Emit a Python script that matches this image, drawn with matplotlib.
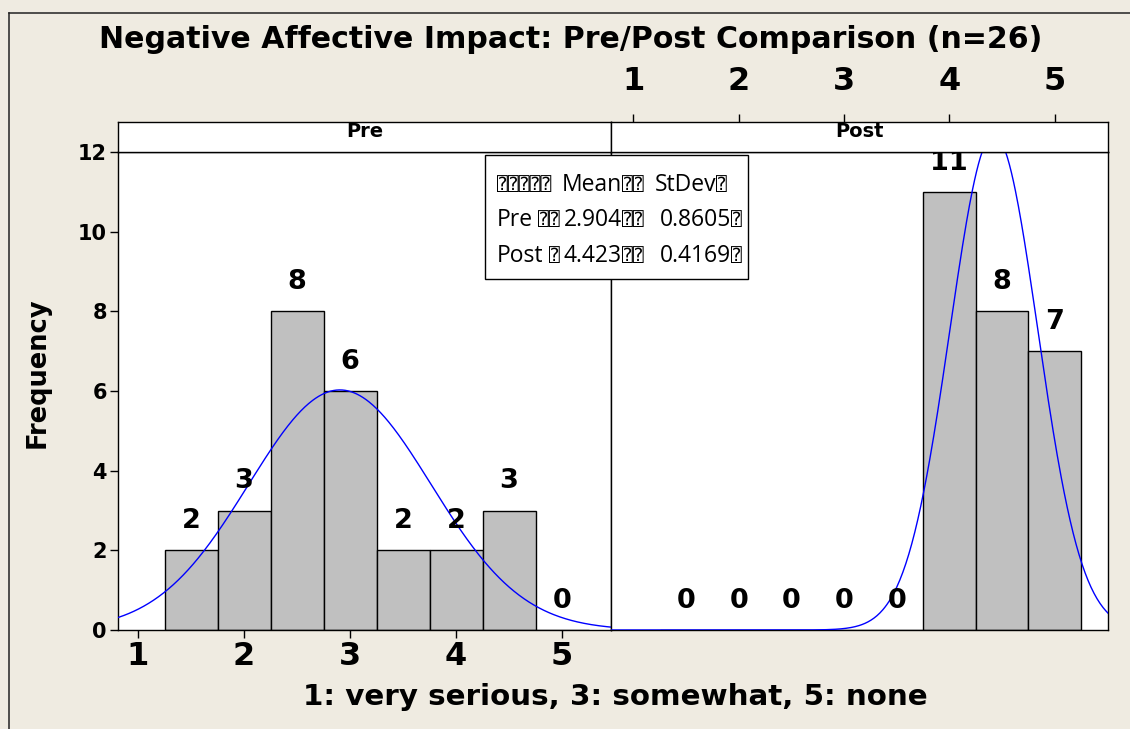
import numpy as np
import matplotlib
matplotlib.use('Agg')
import matplotlib.pyplot as plt
from matplotlib.lines import Line2D
from matplotlib.patches import Rectangle

# ---------------- data ----------------
bin_centers = [1.5, 2.0, 2.5, 3.0, 3.5, 4.0, 4.5, 5.0]
pre_counts = [2, 3, 8, 6, 2, 2, 3, 0]
post_counts = [0, 0, 0, 0, 0, 11, 8, 7]
bin_width = 0.5
groups = ["Pre", "Post"]
means = [2.904, 4.423]
stdevs = [0.8605, 0.4169]
n_obs = 26
x_ticks = [1, 2, 3, 4, 5]
y_ticks = [0, 2, 4, 6, 8, 10, 12]
title = "Negative Affective Impact: Pre/Post Comparison (n=26)"
xlabel = "1: very serious, 3: somewhat, 5: none"
ylabel = "Frequency"
legend_header = ["Mean", "StDev"]
TOFU = "\u2370"

# ---------------- layout ----------------
W, H = 1130, 729
fig = plt.figure(figsize=(W / 100, H / 100), dpi=100)
bg = '#EFEBE1'
fig.patch.set_facecolor(bg)


def fx(px):
    return px / W


def fy(py):
    return 1 - py / H


L, M, R = 118, 611, 1108
TOP, BOT, STRIP = 152, 630, 122

ax_l = fig.add_axes([fx(L), fy(BOT), fx(M) - fx(L), fy(TOP) - fy(BOT)])
ax_r = fig.add_axes([fx(M), fy(BOT), fx(R) - fx(M), fy(TOP) - fy(BOT)])
st_l = fig.add_axes([fx(L), fy(TOP), fx(M) - fx(L), fy(STRIP) - fy(TOP)])
st_r = fig.add_axes([fx(M), fy(TOP), fx(R) - fx(M), fy(STRIP) - fy(TOP)])

xlims = [(0.811, 5.462), (0.787, 5.507)]
counts_all = [pre_counts, post_counts]

for i, (ax, st) in enumerate([(ax_l, st_l), (ax_r, st_r)]):
    counts = counts_all[i]
    ax.set_facecolor('white')
    ax.bar(bin_centers, counts, width=bin_width, color='#C0C0C0',
           edgecolor='black', linewidth=1.0, zorder=2)
    for xc, c in zip(bin_centers, counts):
        ax.annotate(str(c), (xc, c), xytext=(0, 29), textcoords='offset pixels',
                    ha='center', va='center', fontsize=19.5, fontweight='bold',
                    zorder=4)
    xs = np.linspace(xlims[i][0], xlims[i][1], 500)
    ys = n_obs * bin_width * np.exp(-0.5 * ((xs - means[i]) / stdevs[i]) ** 2) / (
        stdevs[i] * np.sqrt(2 * np.pi))
    ax.plot(xs, ys, color='#0000FF', linewidth=1.0, zorder=3)
    ax.set_xlim(*xlims[i])
    ax.set_ylim(0, 12)
    for sp in ax.spines.values():
        sp.set_linewidth(1.0)
        sp.set_color('black')

    st.set_facecolor('white')
    st.set_xlim(*xlims[i])
    st.set_ylim(0, 1)
    st.set_yticks([])
    st.text(0.5, 0.68, groups[i], transform=st.transAxes, ha='center', va='center',
            fontsize=14, fontweight='bold')
    for sp in st.spines.values():
        sp.set_linewidth(1.0)
        sp.set_color('black')

# left panel axes
ax_l.set_yticks(y_ticks)
ax_l.set_yticklabels([str(v) for v in y_ticks], fontsize=15, fontweight='bold')
ax_l.set_xticks(x_ticks)
ax_l.set_xticklabels([str(v) for v in x_ticks], fontsize=23, fontweight='bold')
ax_l.tick_params(axis='y', length=6, width=1.0, pad=2)
ax_l.tick_params(axis='x', length=6, width=1.0, pad=2)
st_l.set_xticks([])

# right panel axes
ax_r.set_yticks([])
ax_r.set_xticks([])
st_r.xaxis.tick_top()
st_r.set_xticks(x_ticks)
st_r.set_xticklabels([str(v) for v in x_ticks], fontsize=23, fontweight='bold')
st_r.tick_params(axis='x', top=True, bottom=False, length=6, width=1.0, pad=12)

# legend table
fig.patches.append(Rectangle((fx(485), fy(279)), fx(748) - fx(485), fy(155) - fy(279),
                             transform=fig.transFigure, facecolor='white',
                             edgecolor='black', linewidth=1.0, zorder=5))
txt_font = ['Open Sans', 'DejaVu Sans']
box_font = ['DejaVu Sans Mono', 'DejaVu Sans']
row_y = [185, 220, 256]
col0_labels = [TOFU * 5, groups[0], groups[1]]
col1_labels = [legend_header[0], f"{means[0]:.3f}", f"{means[1]:.3f}"]
col2_labels = [legend_header[1], f"{stdevs[0]:.4f}", f"{stdevs[1]:.4f}"]
gap_boxes = [TOFU * 2, TOFU * 2, TOFU * 2]
lead_boxes = ["", TOFU * 2, TOFU]


def put(xpx, ypx, s, ha, fam, size):
    fig.text(fx(xpx), fy(ypx), s, ha=ha, va='center', fontsize=size,
             family=fam, zorder=6)


for r in range(3):
    y = row_y[r]
    put(497, y, col0_labels[r], 'left', box_font if r == 0 else txt_font,
        13 if r == 0 else 16.5)
    if lead_boxes[r]:
        put(560, y, lead_boxes[r], 'right', box_font, 13)
    put(622, y, col1_labels[r], 'right', txt_font, 16.5)
    put(622, y, gap_boxes[r], 'left', box_font, 13)
    c2_right = 716 if r == 0 else 731
    put(c2_right, y, col2_labels[r], 'right', txt_font, 16.5)
    put(c2_right, y, TOFU, 'left', box_font, 13)

# titles
fig.text(fx(571), fy(40), title, ha='center', va='center', fontsize=21.6,
         fontweight='bold')
fig.text(fx(615), fy(697), xlabel, ha='center', va='center', fontsize=21.2,
         fontweight='bold')
fig.text(fx(38), fy(373), ylabel, ha='center', va='center', rotation=90,
         fontsize=18.5, fontweight='bold')

# outer frame lines
fig.lines.append(Line2D([fx(9), 1], [fy(13), fy(13)], transform=fig.transFigure,
                        color='#222222', linewidth=1.1))
fig.lines.append(Line2D([fx(9), fx(9)], [fy(13), 0], transform=fig.transFigure,
                        color='#222222', linewidth=1.1))

fig.savefig('out.png', dpi=100, facecolor=bg)
